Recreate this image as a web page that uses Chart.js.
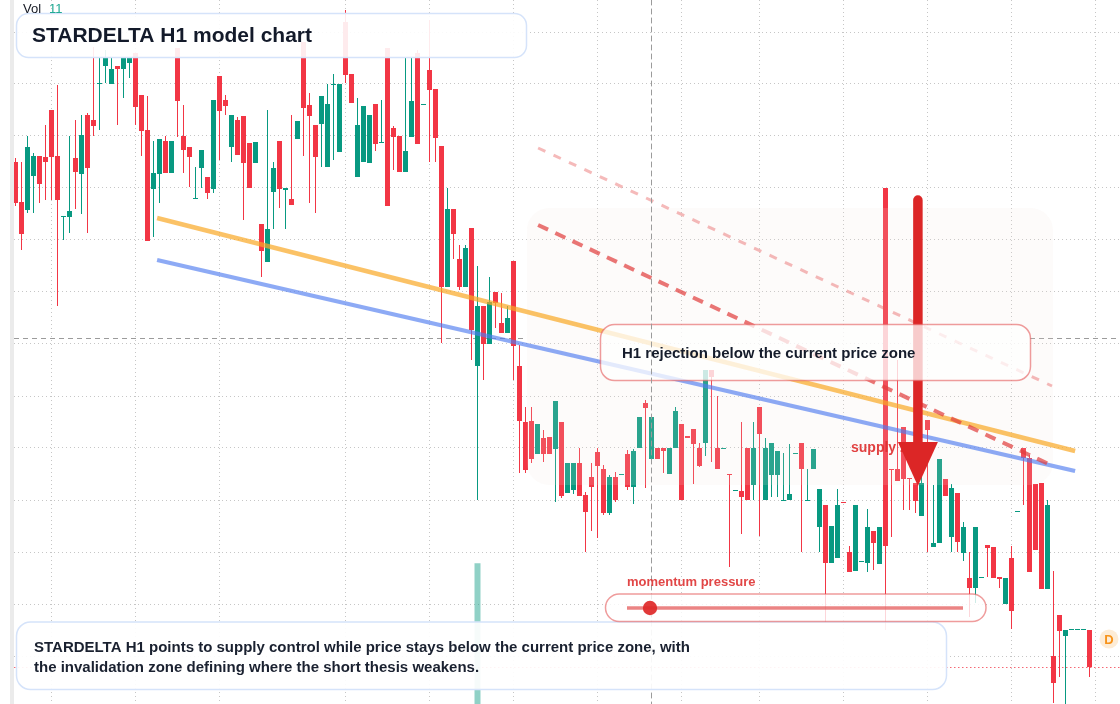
<!DOCTYPE html>
<html>
<head>
<meta charset="utf-8">
<script src="https://cdn.jsdelivr.net/npm/chart.js@4.4.1/dist/chart.umd.min.js"></script>
<style>
  html, body { margin: 0; padding: 0; background: #fff; overflow: hidden; }
  #wrap { width: 1120px; height: 704px; position: relative; }
</style>
</head>
<body>
<div id="wrap"><canvas id="chart" width="1120" height="704"></canvas></div>
<script>
// H1 candles, price units
const open = [54.6,50.6,49.8,53.2,55.2,55.1,59.8,55.2,49.1,49.1,
  55.0,53.4,59.3,58.8,62.4,64.2,62.4,64.2,63.9,64.5,
  65.5,61.3,57.8,51.9,53.4,56.7,53.5,66.0,57.2,56.1,
  50.9,54.0,53.1,51.9,63.2,60.8,56.1,58.8,59.2,56.5,
  54.5,48.4,44.6,51.6,56.7,51.8,50.9,56.9,66.6,60.3,
  58.3,58.4,54.1,62.3,55.6,68.6,63.4,53.1,54.6,54.5,
  60.4,56.5,66.0,58.0,57.2,53.6,57.1,65.5,60.3,63.8,
  61.9,56.2,42.1,49.9,44.9,42.1,48.0,34.2,40.2,36.4,
  41.6,38.5,37.5,44.7,34.2,28.6,28.7,25.4,27.0,27.1,
  25.9,28.6,21.5,21.8,24.5,21.3,23.1,25.6,23.9,19.5,
  23.1,23.3,25.4,22.1,26.0,30.5,24.9,26.0,26.0,23.4,
  26.0,28.4,27.2,27.9,26.0,26.5,33.8,26.0,25.9,23.4,
  21.7,21.7,26.0,22.3,30.1,20.8,23.3,23.3,20.7,20.8,
  25.4,26.5,20.7,23.9,18.1,20.3,14.5,15.0,20.6,15.6,
  13.7,14.6,14.5,17.7,14.4,52.0,23.9,23.9,28.1,23.0,
  22.5,19.2,28.8,16.1,16.5,22.9,17.1,21.5,15.5,13.0,
  12.0,13.0,16.3,16.1,13.1,10.4,15.0,19.6,26.0,25.0,
  22.4,22.5,11.9,5.2,9.3,7.2,7.8,7.8,7.8,7.8];
const high = [55.0,54.6,57.2,55.5,55.2,58.3,59.8,62.3,49.2,57.2,
  58.8,59.3,59.5,66.1,65.0,65.8,65.0,64.2,65.0,65.0,
  65.5,61.3,61.2,56.7,56.9,57.2,56.7,66.0,60.3,56.1,
  54.1,55.8,53.1,60.8,63.2,61.3,59.3,59.1,59.2,56.5,
  56.6,48.4,59.8,54.6,56.7,52.0,59.3,58.7,66.6,61.5,
  58.3,61.2,62.4,63.4,62.4,69.8,63.4,61.0,60.2,59.3,
  60.4,60.8,66.0,58.2,57.2,65.0,65.0,65.8,60.4,68.8,
  61.9,56.2,52.0,49.9,46.3,46.3,48.0,44.2,40.2,43.1,
  41.6,41.5,40.2,44.7,36.3,30.1,30.1,28.4,27.8,27.1,
  30.7,28.6,24.5,24.5,26.0,21.6,24.5,26.0,24.3,23.3,
  23.6,23.4,25.8,25.9,29.1,30.8,29.1,26.0,26.0,26.0,
  30.1,28.4,27.2,27.9,26.5,33.8,33.8,31.2,26.0,23.4,
  21.8,28.6,26.0,28.6,30.1,27.0,26.5,25.7,25.5,26.4,
  25.5,26.5,23.9,25.9,21.9,20.3,18.2,21.9,20.6,16.2,
  20.3,14.7,19.9,17.7,18.1,52.0,23.9,34.8,28.1,23.0,
  22.5,31.2,28.8,22.3,24.9,22.9,22.4,21.5,18.6,15.6,
  18.1,13.1,16.3,16.1,13.1,13.0,16.2,19.7,26.0,25.3,
  22.4,22.5,20.8,13.7,9.3,7.8,7.8,7.8,7.8,7.8];
const low = [50.2,45.8,49.5,49.5,50.5,50.8,50.8,40.2,46.8,47.5,
  49.9,49.4,47.5,57.2,57.8,62.5,62.4,58.3,61.0,63.0,
  58.3,55.2,46.7,47.1,50.5,53.5,53.5,57.1,53.5,52.1,
  50.9,52.0,50.9,51.5,54.8,59.3,54.6,55.3,48.8,52.0,
  54.5,43.1,44.6,47.9,50.0,47.9,50.3,56.9,55.2,50.5,
  49.5,54.1,54.1,54.8,55.6,62.5,60.5,53.1,54.6,54.5,
  55.7,56.5,50.2,53.8,53.6,53.6,57.1,56.4,60.3,54.6,
  54.6,36.5,42.1,44.9,41.8,42.1,34.8,20.8,32.8,36.4,
  38.0,37.5,37.5,32.8,23.5,23.5,24.5,25.4,24.6,25.4,
  20.6,21.0,21.5,21.4,21.2,15.6,17.7,17.0,19.3,19.3,
  20.6,23.3,21.8,20.4,26.0,22.0,24.9,24.9,23.5,23.4,
  26.0,20.8,27.0,22.4,24.1,25.2,24.6,23.9,25.9,14.1,
  21.7,17.4,20.8,20.8,17.2,20.8,21.1,21.1,20.7,20.8,
  25.4,15.6,20.7,23.9,15.6,8.6,14.5,15.0,20.5,13.6,
  13.7,14.6,13.6,13.8,14.4,7.8,17.1,22.7,19.8,19.8,
  19.5,19.2,15.6,16.1,16.5,21.2,15.6,15.6,14.7,9.1,
  10.5,13.0,13.1,13.0,12.0,10.4,7.9,19.6,20.3,13.6,
  15.8,11.9,11.9,0.5,3.1,0.4,7.8,7.8,7.8,3.1];
const close = [50.5,47.4,56.1,55.2,52.4,54.6,55.1,50.8,49.2,49.7,
  53.6,57.3,54.0,58.2,62.5,65.0,63.9,63.9,65.0,65.0,
  60.1,57.7,46.7,53.5,56.9,53.5,56.7,60.7,55.8,55.1,
  51.0,55.8,51.5,60.8,59.7,60.2,59.3,55.3,54.5,52.0,
  56.6,45.7,47.9,54.0,51.9,52.0,50.3,58.7,60.0,59.2,
  55.1,61.2,60.4,62.4,62.4,63.3,60.5,58.3,60.2,59.3,
  56.4,56.6,50.2,57.1,53.6,55.7,60.7,56.4,60.4,61.8,
  57.0,42.1,49.9,47.4,42.1,46.0,37.8,40.2,36.4,40.6,
  40.5,37.5,39.0,36.2,28.7,23.8,24.9,28.4,25.4,25.4,
  30.7,21.2,24.5,24.5,21.2,19.6,22.1,24.2,19.5,23.1,
  20.8,23.4,22.1,25.7,29.1,30.0,29.1,24.9,25.7,26.0,
  29.7,20.8,27.0,26.4,24.2,33.8,33.1,23.9,26.0,23.3,
  21.8,21.1,20.8,26.0,27.4,26.0,26.5,25.7,20.8,21.4,
  25.5,23.9,20.8,25.9,21.9,14.5,18.2,20.3,20.5,13.6,
  20.3,14.7,18.1,16.5,18.1,16.2,23.8,22.7,22.9,22.9,
  20.7,22.5,27.8,16.5,24.9,21.2,22.0,16.6,18.1,12.0,
  18.1,13.1,16.0,13.0,12.9,13.0,9.7,19.7,25.0,13.6,
  15.8,11.9,20.3,2.5,7.7,7.8,7.8,7.8,7.8,4.1];

// the only volume bar that shows above the bottom edge
const volIdx = [77];
const volVal = [200];

// grid positions (bar index / price)
const xGrid = [6, 20, 34, 55, 69, 83, 97, 111, 124, 138, 152, 166, 180];
const yGrid = [5.2, 10.4, 15.6, 20.8, 26.0, 31.2, 36.4, 41.6, 46.8, 52.0, 57.2, 62.4, 67.6];

// drawn trend lines: [startBar, startPrice, endBar, endPrice]
const orangeLine = [23.6, 49.0, 176.6, 25.7];
const blueLine = [23.6, 44.8, 176.6, 23.7];
const redDashHeavy = [87.1, 48.3, 172.9, 24.2];
const redDashLight = [87.1, 56.0, 172.75, 32.2];
// supply zone box [fromBar, topPrice, toBar, bottomPrice] and arrow [bar, fromPrice, headPrice, tipPrice]
const zoneBox = [85.25, 50.0, 172.9, 22.3];
const arrow = [150.4, 51.3, 26.6, 22.2];
const crossBar = 105.9, crossPrice = 37.0;

const UP = '#089981', DOWN = '#f23645';
const idx = open.map((_, i) => i);
const colors = idx.map(i => close[i] >= open[i] ? UP : DOWN);
const seg = a => [{x: a[0], y: a[1]}, {x: a[2], y: a[3]}];
const FONT = '"Liberation Sans", Arial, sans-serif';

function rr(ctx, x, y, w, h, r) {
  ctx.beginPath();
  ctx.moveTo(x + r, y);
  ctx.lineTo(x + w - r, y);
  ctx.arcTo(x + w, y, x + w, y + r, r);
  ctx.lineTo(x + w, y + h - r);
  ctx.arcTo(x + w, y + h, x + w - r, y + h, r);
  ctx.lineTo(x + r, y + h);
  ctx.arcTo(x, y + h, x, y + h - r, r);
  ctx.lineTo(x, y + r);
  ctx.arcTo(x, y, x + r, y, r);
  ctx.closePath();
}

const overlay = {
  id: 'overlay',
  beforeDatasetsDraw(chart) {
    const {ctx, scales: {x, y}} = chart;
    ctx.save();
    ctx.fillStyle = '#ebebeb';
    ctx.fillRect(10, 0, 4, 704);
    // last price line
    const py = Math.round(y.getPixelForValue(close[close.length - 1])) + 0.5;
    ctx.strokeStyle = 'rgba(242,54,69,0.75)';
    ctx.lineWidth = 1;
    ctx.setLineDash([1.5, 2.5]);
    ctx.beginPath(); ctx.moveTo(14, py); ctx.lineTo(1120, py); ctx.stroke();
    // horizontal crosshair
    const cy = Math.round(y.getPixelForValue(crossPrice)) + 0.5;
    ctx.strokeStyle = '#9b9b9b';
    ctx.setLineDash([5, 4]);
    ctx.beginPath(); ctx.moveTo(14, cy); ctx.lineTo(527, cy); ctx.moveTo(1030, cy); ctx.lineTo(1120, cy); ctx.stroke();
    ctx.restore();
  },
  afterDatasetDraw(chart, args) {
    if (args.index !== 4) return;
    const {ctx, scales: {x, y}} = chart;
    const x0 = x.getPixelForValue(zoneBox[0]), x1 = x.getPixelForValue(zoneBox[2]);
    const y0 = y.getPixelForValue(zoneBox[1]), y1 = y.getPixelForValue(zoneBox[3]);
    ctx.save();
    rr(ctx, x0, y0, x1 - x0, y1 - y0, 22);
    ctx.fillStyle = 'rgba(242,228,222,0.15)';
    ctx.fill();
    ctx.restore();
  },
  afterDatasetsDraw(chart) {
    const {ctx, scales: {x, y}} = chart;
    ctx.save();
    // supply zone label
    ctx.font = 'bold 14px ' + FONT;
    ctx.fillStyle = 'rgba(222,44,44,0.9)';
    ctx.textBaseline = 'middle';
    ctx.fillText('supply zone', 851, 448);
    // arrow
    const ax = x.getPixelForValue(arrow[0]);
    const a0 = y.getPixelForValue(arrow[1]), a1 = y.getPixelForValue(arrow[2]), a2 = y.getPixelForValue(arrow[3]);
    ctx.strokeStyle = '#dc2626';
    ctx.lineWidth = 9.5;
    ctx.lineCap = 'round';
    ctx.beginPath(); ctx.moveTo(ax, a0 + 5); ctx.lineTo(ax, a1); ctx.stroke();
    ctx.fillStyle = '#dc2626';
    ctx.beginPath(); ctx.moveTo(ax - 20, a1); ctx.lineTo(ax + 20, a1); ctx.lineTo(ax, a2); ctx.closePath(); ctx.fill();
    // callout
    rr(ctx, 600.5, 324.5, 430, 56, 14);
    ctx.fillStyle = 'rgba(255,255,255,0.76)';
    ctx.fill();
    ctx.lineWidth = 1.5;
    ctx.strokeStyle = 'rgba(228,90,90,0.6)';
    ctx.stroke();
    ctx.font = 'bold 15px ' + FONT;
    ctx.fillStyle = '#151c2b';
    ctx.fillText('H1 rejection below the current price zone', 622, 354);
    // vertical crosshair
    const cx = Math.round(x.getPixelForValue(crossBar)) + 0.5;
    ctx.strokeStyle = '#9b9b9b';
    ctx.lineWidth = 1;
    ctx.setLineDash([5, 4]);
    ctx.beginPath(); ctx.moveTo(cx, 0); ctx.lineTo(cx, 704); ctx.stroke();
    ctx.setLineDash([]);
    // title box
    rr(ctx, 16.5, 13.5, 510, 44, 12);
    ctx.fillStyle = 'rgba(255,255,255,0.9)';
    ctx.fill();
    ctx.strokeStyle = '#d5e3fa';
    ctx.lineWidth = 1.5;
    ctx.stroke();
    ctx.font = 'bold 21px ' + FONT;
    ctx.fillStyle = '#131a2a';
    ctx.fillText('STARDELTA H1 model chart', 32, 36);
    // bottom note
    rr(ctx, 16.5, 622, 930, 67.5, 14);
    ctx.fillStyle = 'rgba(255,255,255,0.92)';
    ctx.fill();
    ctx.stroke();
    ctx.font = 'bold 15px ' + FONT;
    ctx.fillStyle = '#1a2130';
    ctx.fillText('STARDELTA H1 points to supply control while price stays below the current price zone, with', 34, 648);
    ctx.fillText('the invalidation zone defining where the short thesis weakens.', 34, 668);
    // momentum pill
    ctx.font = 'bold 13px ' + FONT;
    ctx.fillStyle = 'rgba(222,50,50,0.9)';
    ctx.fillText('momentum pressure', 627, 582);
    rr(ctx, 605.5, 594, 380.5, 27.5, 13.7);
    ctx.fillStyle = 'rgba(255,255,255,0.8)';
    ctx.fill();
    ctx.strokeStyle = 'rgba(228,90,90,0.6)';
    ctx.stroke();
    ctx.strokeStyle = 'rgba(226,80,80,0.7)';
    ctx.lineWidth = 3.5;
    ctx.lineCap = 'butt';
    ctx.beginPath(); ctx.moveTo(627, 608); ctx.lineTo(963, 608); ctx.stroke();
    ctx.fillStyle = 'rgba(222,40,40,0.92)';
    ctx.beginPath(); ctx.arc(650, 608, 7.2, 0, Math.PI * 2); ctx.fill();
    // volume legend
    ctx.font = '13px ' + FONT;
    ctx.fillStyle = '#131722';
    ctx.fillText('Vol', 23, 9);
    ctx.fillStyle = '#22ab94';
    ctx.fillText('11', 49, 9);
    // D badge
    ctx.fillStyle = '#fdecd6';
    ctx.beginPath(); ctx.arc(1109, 639, 9.5, 0, Math.PI * 2); ctx.fill();
    ctx.fillStyle = '#f7931a';
    ctx.font = 'bold 13px ' + FONT;
    ctx.textAlign = 'center';
    ctx.fillText('D', 1109, 640);
    ctx.restore();
  }
};

new Chart(document.getElementById('chart'), {
  type: 'bar',
  data: {
    datasets: [
      { type: 'line', label: 'upper channel', data: seg(redDashLight), borderColor: 'rgba(232,90,90,0.42)', borderWidth: 3, borderDash: [8, 9], pointRadius: 0, fill: false, order: 1 },
      { type: 'line', label: 'supply channel', data: seg(redDashHeavy), borderColor: 'rgba(225,60,60,0.7)', borderWidth: 4, borderDash: [11, 8], pointRadius: 0, fill: false, order: 1 },
      { type: 'line', label: 'trend a', data: seg(orangeLine), borderColor: 'rgba(249,168,37,0.7)', borderWidth: 4.5, pointRadius: 0, fill: false, order: 1 },
      { type: 'line', label: 'trend b', data: seg(blueLine), borderColor: 'rgba(80,125,240,0.65)', borderWidth: 4, pointRadius: 0, fill: false, order: 1 },
      { label: 'body', data: idx.map(i => ({x: i, y: [open[i], close[i]]})), backgroundColor: colors,
        barThickness: 5, minBarLength: 1, grouped: false, inflateAmount: 0, order: 2 },
      { label: 'wick', data: idx.map(i => ({x: i, y: [low[i], high[i]]})), backgroundColor: colors,
        barThickness: 1, grouped: false, inflateAmount: 0, order: 3 },
      { label: 'volume', yAxisID: 'yv', data: volIdx.map((v, k) => ({x: v, y: [0, volVal[k]]})),
        backgroundColor: 'rgba(8,153,129,0.45)', barThickness: 6, grouped: false, inflateAmount: 0, order: 4 }
    ]
  },
  options: {
    responsive: false,
    animation: false,
    events: [],
    layout: { padding: { left: 14, right: 0, top: 0, bottom: 0 } },
    plugins: { legend: { display: false }, tooltip: { enabled: false } },
    scales: {
      x: {
        type: 'linear', min: -0.25, max: 184.0833, offset: false,
        grid: { offset: false, color: '#c6c6c6', lineWidth: 1, drawTicks: false },
        border: { display: false, dash: [1, 3] },
        ticks: { display: false },
        afterBuildTicks: s => { s.ticks = xGrid.map(v => ({value: v})); },
        afterFit: s => { s.height = 0; }
      },
      y: {
        type: 'linear', min: 0.4, max: 70.8,
        grid: { color: '#c6c6c6', lineWidth: 1, drawTicks: false },
        border: { display: false, dash: [1, 3] },
        ticks: { display: false },
        afterBuildTicks: s => { s.ticks = yGrid.map(v => ({value: v})); },
        afterFit: s => { s.width = 0; }
      },
      yv: { type: 'linear', display: false, min: 0, max: 1000 }
    }
  },
  plugins: [overlay]
});
</script>
</body>
</html>
